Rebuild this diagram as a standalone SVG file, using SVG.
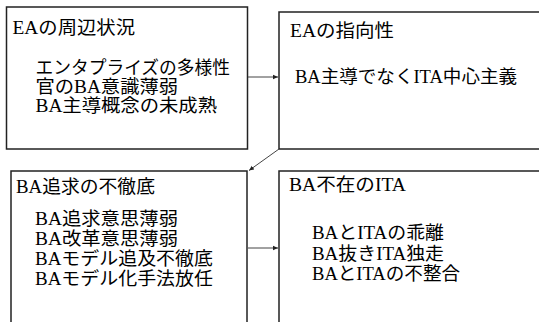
<svg xmlns="http://www.w3.org/2000/svg" width="539" height="322" viewBox="0 0 539 322">
<style>
.box{fill:#fff;stroke:#222;stroke-width:1.5}
.t{font-family:"Liberation Serif","Noto Sans CJK JP",serif;font-size:18px;fill:#000}
.c{stroke:#444;stroke-width:1;fill:none;marker-end:url(#ah)}
</style>
<defs>
<marker id="ah" markerWidth="6" markerHeight="6" refX="5" refY="3" orient="auto" markerUnits="userSpaceOnUse">
<path d="M0,0.8 L5,3 L0,5.2 Z" fill="#222"/>
</marker>
</defs>
<rect width="539" height="322" fill="#fff"/>
<g id="node1">
<rect class="box" x="6.5" y="7" width="241" height="142"/>
<text class="t" x="12.5" y="34" textLength="122.5" lengthAdjust="spacingAndGlyphs">EAの周辺状況</text>
<text class="t" x="35.5" y="74" textLength="194.5" lengthAdjust="spacingAndGlyphs">エンタプライズの多様性</text>
<text class="t" x="35.5" y="93" textLength="142.5" lengthAdjust="spacingAndGlyphs">官のBA意識薄弱</text>
<text class="t" x="35.5" y="112" textLength="181.5" lengthAdjust="spacingAndGlyphs">BA主導概念の未成熟</text>
</g>
<g id="node2">
<rect class="box" x="279" y="12" width="270" height="137"/>
<text class="t" x="290" y="37" textLength="104" lengthAdjust="spacingAndGlyphs">EAの指向性</text>
<text class="t" x="295" y="83" textLength="222" lengthAdjust="spacingAndGlyphs">BA主導でなくITA中心主義</text>
</g>
<g id="node3">
<rect class="box" x="11" y="171" width="236" height="170"/>
<text class="t" x="16" y="193" textLength="139" lengthAdjust="spacingAndGlyphs">BA追求の不徹底</text>
<text class="t" x="35" y="225" textLength="143" lengthAdjust="spacingAndGlyphs">BA追求意思薄弱</text>
<text class="t" x="35" y="245" textLength="143" lengthAdjust="spacingAndGlyphs">BA改革意思薄弱</text>
<text class="t" x="35" y="265" textLength="178" lengthAdjust="spacingAndGlyphs">BAモデル追及不徹底</text>
<text class="t" x="35" y="285" textLength="178" lengthAdjust="spacingAndGlyphs">BAモデル化手法放任</text>
</g>
<g id="node4">
<rect class="box" x="279" y="171" width="270" height="170"/>
<text class="t" x="289" y="191" textLength="117" lengthAdjust="spacingAndGlyphs">BA不在のITA</text>
<text class="t" x="312" y="239" textLength="132" lengthAdjust="spacingAndGlyphs">BAとITAの乖離</text>
<text class="t" x="312" y="260" textLength="132" lengthAdjust="spacingAndGlyphs">BA抜きITA独走</text>
<text class="t" x="312" y="280" textLength="148" lengthAdjust="spacingAndGlyphs">BAとITAの不整合</text>
</g>
<g id="connectors">
<line class="c" x1="248" y1="77" x2="278" y2="77"/>
<line class="c" x1="279" y1="149" x2="249" y2="170.5"/>
<line class="c" x1="248" y1="248" x2="278" y2="248"/>
</g>
</svg>
